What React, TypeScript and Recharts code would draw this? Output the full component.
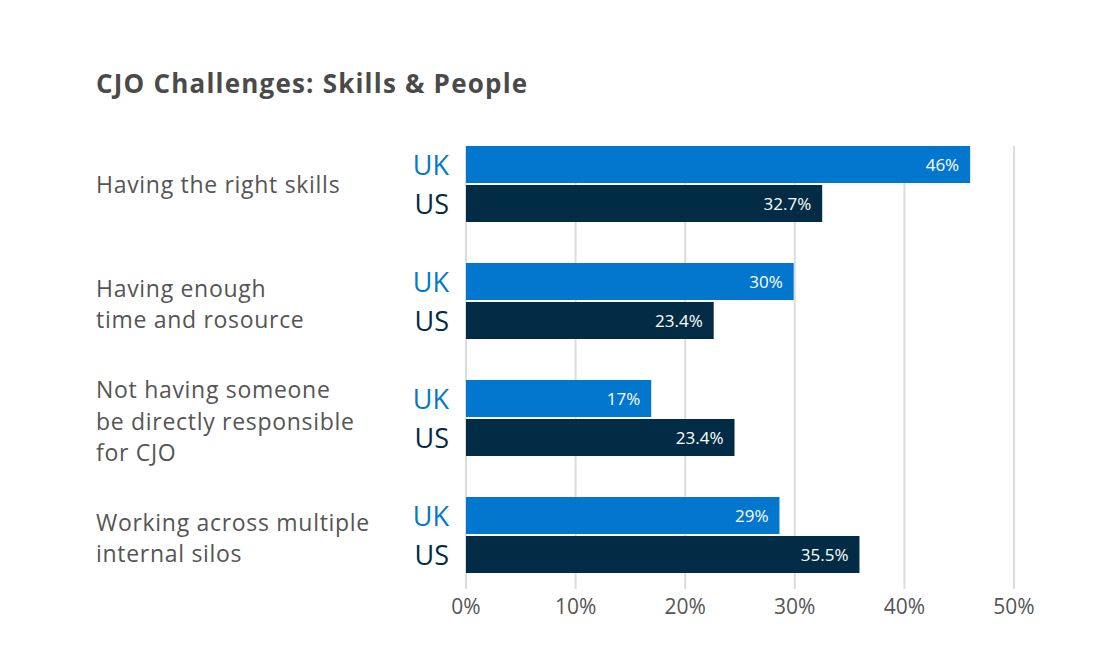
import { BarChart, Bar, XAxis, YAxis, CartesianGrid, LabelList } from "recharts";

const categories = [
  ["Having the right skills"],
  ["Having enough", "time and rosource"],
  ["Not having someone", "be directly responsible", "for CJO"],
  ["Working across multiple", "internal silos"],
];
const seriesNames = ["UK", "US"];
const ukValues = [46, 29.9, 16.9, 28.6];
const usValues = [32.5, 22.6, 24.5, 35.9];
const ukLabels = ["46%", "30%", "17%", "29%"];
const usLabels = ["32.7%", "23.4%", "23.4%", "35.5%"];
const xTicks = [0, 10, 20, 30, 40, 50];

const FONT = "'Open Sans', sans-serif";
const UK_COLOR = "#0277cd";
const US_COLOR = "#022c45";
const TEXT = "#555555";

const data = categories.map((lines, i) => ({
  name: lines.join("\n"),
  uk: ukValues[i],
  us: usValues[i],
  ukLabel: ukLabels[i],
  usLabel: usLabels[i],
}));

const CategoryTick = (props: any) => {
  const lines: string[] = String(props.payload.value).split("\n");
  const lh = 31.5;
  // multi-line labels sit a little below the band centre in the original
  const shift = lines.length > 1 ? 3 : 0;
  return (
    <g>
      {lines.map((line, i) => (
        <text
          key={i}
          x={96}
          y={props.y + shift + (i - (lines.length - 1) / 2) * lh}
          textAnchor="start"
          dominantBaseline="central"
          fontSize={23}
          letterSpacing={0.7}
          fontFamily={FONT}
          fill={TEXT}
        >
          {line}
        </text>
      ))}
    </g>
  );
};

const seriesLabel = (name: string, color: string) => (props: any) => (
  <text
    x={props.x - 17}
    y={props.y + props.height / 2}
    textAnchor="end"
    dominantBaseline="central"
    fontSize={27}
    fontFamily={FONT}
    fill={color}
  >
    {name}
  </text>
);

const gridLine = (props: any) => (
  <line
    key={props.key}
    x1={props.x1}
    x2={props.x2}
    y1={props.y1 + 21}
    y2={props.y2 - 4}
    stroke="#dcdcdc"
    strokeWidth={2}
  />
);

export default function App() {
  return (
    <div style={{ position: "absolute", left: 0, top: 0, width: 1110, height: 666, background: "#fff" }}>
      <div
        style={{
          position: "absolute",
          left: 96,
          top: 70,
          fontFamily: FONT,
          fontWeight: 700,
          fontSize: 26,
          letterSpacing: 1.2,
          lineHeight: 1,
          color: "#4a4a4a",
        }}
      >
        CJO Challenges: Skills &amp; People
      </div>
      <BarChart
        width={1110}
        height={666}
        data={data}
        layout="vertical"
        margin={{ top: 125, right: 96, bottom: 33, left: 96 }}
        barGap={2}
        style={{ fontFamily: FONT }}
      >
        <CartesianGrid horizontal={false} vertical={gridLine} />
        <XAxis
          type="number"
          domain={[0, 50]}
          ticks={xTicks}
          tickFormatter={(v) => `${v}%`}
          axisLine={false}
          tickLine={false}
          tickMargin={0}
          height={40}
          tick={{ fontSize: 21, fill: TEXT, fontFamily: FONT }}
        />
        <YAxis
          type="category"
          dataKey="name"
          width={370}
          axisLine={false}
          tickLine={false}
          tick={<CategoryTick />}
          interval={0}
        />
        <Bar dataKey="uk" fill={UK_COLOR} barSize={37} isAnimationActive={false}>
          <LabelList dataKey="ukLabel" position="insideRight" offset={11} fill="#ffffff" fontSize={17} fontFamily={FONT} />
          <LabelList dataKey="ukLabel" content={seriesLabel(seriesNames[0], UK_COLOR)} />
        </Bar>
        <Bar dataKey="us" fill={US_COLOR} barSize={37} isAnimationActive={false}>
          <LabelList dataKey="usLabel" position="insideRight" offset={11} fill="#ffffff" fontSize={17} fontFamily={FONT} />
          <LabelList dataKey="usLabel" content={seriesLabel(seriesNames[1], US_COLOR)} />
        </Bar>
      </BarChart>
    </div>
  );
}
